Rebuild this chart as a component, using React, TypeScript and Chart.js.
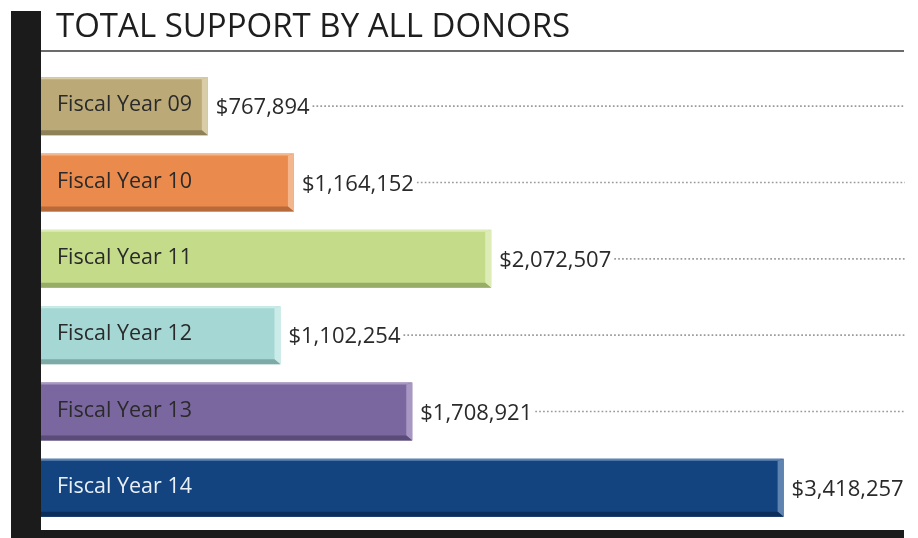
import React, { useEffect, useRef } from "react";
import { Chart, registerables } from "chart.js";

Chart.register(...registerables);

const categories = ["Fiscal Year 09", "Fiscal Year 10", "Fiscal Year 11", "Fiscal Year 12", "Fiscal Year 13", "Fiscal Year 14"];
const values = [767894, 1164152, 2072507, 1102254, 1708921, 3418257];
const barColors = ["#BBAA78", "#EA8B4D", "#C4DB8A", "#A5D8D4", "#7B67A0", "#14447F"];
const lightColors = ["#D8CDA6", "#F4B68C", "#DDECB7", "#CBEBE8", "#A797C2", "#5F84B2"];
const darkColors = ["#8E8158", "#B86A3A", "#97AC66", "#7EAAA6", "#5B4B79", "#0C2E5B"];
const labelColors = ["#2a2a2a", "#2a2a2a", "#2a2a2a", "#2a2a2a", "#2a2a2a", "#EAF0F7"];
const title = "TOTAL SUPPORT BY ALL DONORS";

const FONT = '"Open Sans", "Noto Sans", sans-serif';

function fmt(v: number) {
  return "$" + v.toLocaleString("en-US");
}

const decor = {
  id: "decor",
  beforeDraw(chart: any) {
    const ctx = chart.ctx as CanvasRenderingContext2D;
    const W = chart.width;
    const H = chart.height;
    ctx.save();
    ctx.fillStyle = "#ffffff";
    ctx.fillRect(0, 0, W, H);
    ctx.fillStyle = "#1b1b1b";
    ctx.fillRect(11, 11, 30, H - 11);
    ctx.fillRect(11, 530, 893, 8);
    // title
    ctx.fillStyle = "#1e1e1e";
    ctx.font = `400 33px ${FONT}`;
    ctx.textBaseline = "alphabetic";
    ctx.textAlign = "left";
    ctx.fillText(title, 56, 37);
    // rule
    ctx.strokeStyle = "#3a3a3a";
    ctx.lineWidth = 1.5;
    ctx.beginPath();
    ctx.moveTo(41, 51);
    ctx.lineTo(904, 51);
    ctx.stroke();
    ctx.restore();
  },
  afterDatasetsDraw(chart: any) {
    const ctx = chart.ctx as CanvasRenderingContext2D;
    const meta = chart.getDatasetMeta(0);
    ctx.save();
    meta.data.forEach((bar: any, i: number) => {
      const props = bar.getProps(["x", "y", "base", "height"], true);
      const left = Math.min(props.base, props.x);
      const right = Math.max(props.base, props.x);
      const top = props.y - props.height / 2;
      const bottom = props.y + props.height / 2;
      const rw = 6;
      const bh = 5;
      const th = 2;
      // top highlight
      ctx.fillStyle = lightColors[i];
      ctx.beginPath();
      ctx.moveTo(left, top);
      ctx.lineTo(right, top);
      ctx.lineTo(right - rw, top + th);
      ctx.lineTo(left, top + th);
      ctx.closePath();
      ctx.fill();
      // right strip
      ctx.beginPath();
      ctx.moveTo(right, top);
      ctx.lineTo(right, bottom);
      ctx.lineTo(right - rw, bottom - bh);
      ctx.lineTo(right - rw, top + th);
      ctx.closePath();
      ctx.fill();
      // bottom strip
      ctx.fillStyle = darkColors[i];
      ctx.beginPath();
      ctx.moveTo(left, bottom);
      ctx.lineTo(right, bottom);
      ctx.lineTo(right - rw, bottom - bh);
      ctx.lineTo(left, bottom - bh);
      ctx.closePath();
      ctx.fill();

      // category label
      ctx.font = `400 21.5px ${FONT}`;
      ctx.textBaseline = "middle";
      ctx.textAlign = "left";
      ctx.fillStyle = labelColors[i];
      ctx.fillText(categories[i], 57, props.y - 1);

      // value label
      ctx.font = `400 22px ${FONT}`;
      const txt = fmt(values[i]);
      const vx = right + 8;
      const vy = props.y + 2;
      ctx.fillStyle = "#2a2a2a";
      ctx.fillText(txt, vx, vy);
      const tw = ctx.measureText(txt).width;
      const startX = vx + tw + 3;
      if (startX < 900) {
        ctx.strokeStyle = "#9a9a9a";
        ctx.lineWidth = 1.7;
        ctx.setLineDash([1.7, 2.2]);
        ctx.beginPath();
        ctx.moveTo(startX, vy - 2);
        ctx.lineTo(905, vy - 2);
        ctx.stroke();
        ctx.setLineDash([]);
      }
    });
    ctx.restore();
  },
};

export default function App() {
  const ref = useRef<HTMLCanvasElement | null>(null);
  useEffect(() => {
    if (!ref.current) return;
    const chart = new Chart(ref.current, {
      type: "bar",
      data: {
        labels: categories,
        datasets: [
          {
            data: values,
            backgroundColor: barColors,
            borderWidth: 0,
            categoryPercentage: 1,
            barPercentage: 0.76,
          },
        ],
      },
      options: {
        indexAxis: "y",
        responsive: false,
        animation: false,
        layout: { padding: { left: 41, right: 8, top: 68, bottom: 12 } },
        scales: {
          x: { display: false, min: 0, max: 4000000 },
          y: { display: false },
        },
        plugins: {
          legend: { display: false },
          tooltip: { enabled: false },
          title: { display: false },
        },
      },
      plugins: [decor],
    });
    return () => chart.destroy();
  }, []);
  return (
    <div style={{ position: "absolute", left: 0, top: 0, width: 918, height: 538 }}>
      <canvas ref={ref} width={918} height={538} style={{ display: "block", width: 918, height: 538 }} />
    </div>
  );
}
